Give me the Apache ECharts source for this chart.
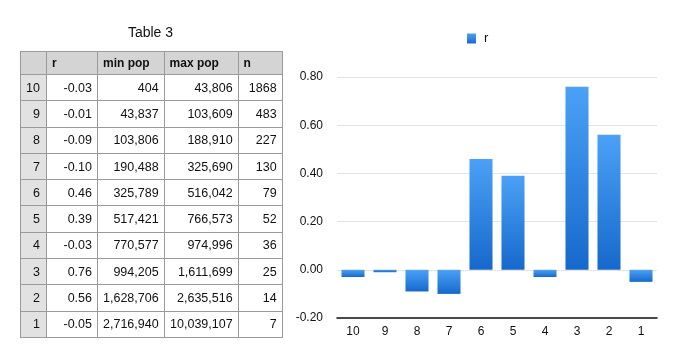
<!DOCTYPE html>
<html>
<head>
<meta charset="utf-8">
<script src="https://cdn.jsdelivr.net/npm/echarts@6/dist/echarts.min.js"></script>
<style>
  html, body { margin: 0; padding: 0; background: #fff; }
  body { width: 681px; height: 352px; position: relative; overflow: hidden; font-family: "Liberation Sans", Arial, sans-serif; }
  #chart { position: absolute; left: 0; top: 0; width: 681px; height: 352px; }
  #title { position: absolute; left: 20px; width: 261px; top: 24px; text-align: center; font-size: 14px; color: #111; }
  #tbl { position: absolute; left: 20px; top: 51px; border-collapse: collapse; table-layout: fixed; font-size: 12.5px; color: #111; z-index: 2; }
  #tbl td, #tbl th { border: 1px solid #9a9a9a; padding: 0 5px; white-space: nowrap; overflow: hidden; }
  #tbl th { background: #d4d4d4; font-weight: bold; text-align: left; height: 22px; font-size: 12px; }
  #tbl td { height: 25.3px; text-align: right; background: #fff; }
  #tbl td.idx { background: #e2e2e2; padding-right: 6px; }
</style>
</head>
<body>
<div id="chart"></div>
<div id="title">Table 3</div>
<table id="tbl"></table>
<script>
const categories = ['10', '9', '8', '7', '6', '5', '4', '3', '2', '1'];
const rValues = [-0.03, -0.01, -0.09, -0.10, 0.46, 0.39, -0.03, 0.76, 0.56, -0.05];
const minPop = ['404', '43,837', '103,806', '190,488', '325,789', '517,421', '770,577', '994,205', '1,628,706', '2,716,940'];
const maxPop = ['43,806', '103,609', '188,910', '325,690', '516,042', '766,573', '974,996', '1,611,699', '2,635,516', '10,039,107'];
const nValues = ['1868', '483', '227', '130', '79', '52', '36', '25', '14', '7'];
const headers = ['', 'r', 'min pop', 'max pop', 'n'];
const colWidths = [26, 51, 66, 74, 44];
const yTicks = [-0.2, 0.0, 0.2, 0.4, 0.6, 0.8];

// table
const tbl = document.getElementById('tbl');
const cg = document.createElement('colgroup');
colWidths.forEach(w => { const c = document.createElement('col'); c.style.width = w + 'px'; cg.appendChild(c); });
tbl.appendChild(cg);
const hr = document.createElement('tr');
headers.forEach(h => { const th = document.createElement('th'); th.textContent = h; hr.appendChild(th); });
tbl.appendChild(hr);
categories.forEach((c, i) => {
  const tr = document.createElement('tr');
  const cells = [c, rValues[i].toFixed(2), minPop[i], maxPop[i], nValues[i]];
  cells.forEach((v, j) => {
    const td = document.createElement('td');
    td.textContent = v;
    if (j === 0) td.className = 'idx';
    tr.appendChild(td);
  });
  tbl.appendChild(tr);
});

// chart
const chart = echarts.init(document.getElementById('chart'), null, { renderer: 'canvas' });
const grad = new echarts.graphic.LinearGradient(0, 0, 0, 1, [
  { offset: 0, color: '#4ba1f6' },
  { offset: 1, color: '#1669cc' }
]);
chart.setOption({
  animation: false,
  textStyle: { fontFamily: 'Liberation Sans, Arial, sans-serif' },
  legend: {
    data: ['r'],
    left: 467, top: 32, padding: 0,
    itemWidth: 9, itemHeight: 10, itemGap: 8,
    textStyle: { fontSize: 13, color: '#111', padding: [0, 0, 0, 3] },
    icon: 'rect'
  },
  grid: { left: 337, right: 24, top: 77, bottom: 34, containLabel: false },
  xAxis: {
    type: 'category',
    data: categories,
    axisLine: { onZero: false, lineStyle: { color: '#111', width: 1.5 } },
    axisTick: { show: false },
    axisLabel: { fontSize: 12, color: '#111', margin: 8 }
  },
  yAxis: {
    type: 'value',
    min: yTicks[0], max: yTicks[yTicks.length - 1], interval: 0.2,
    axisLine: { show: false },
    axisTick: { show: false },
    axisLabel: { fontSize: 12, color: '#111', margin: 14, formatter: v => v.toFixed(2) },
    splitLine: { lineStyle: { color: '#e4e4e4', width: 1 } }
  },
  series: [{
    name: 'r',
    type: 'bar',
    data: rValues,
    barWidth: '72%',
    itemStyle: { color: grad }
  }]
});
</script>
</body>
</html>
